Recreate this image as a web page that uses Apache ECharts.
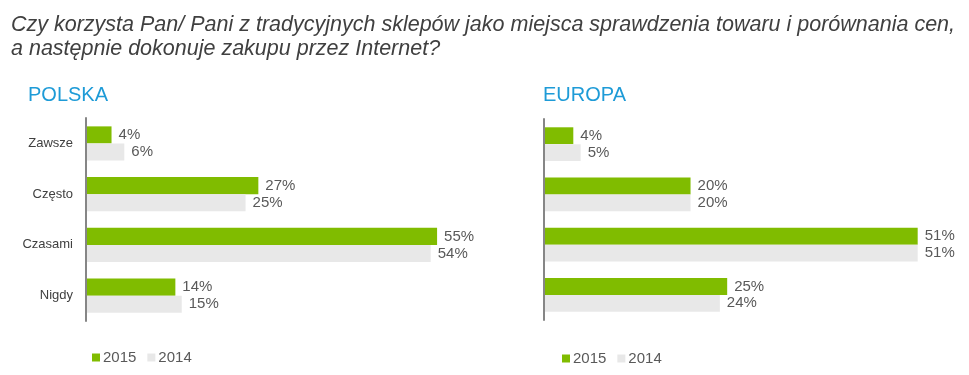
<!DOCTYPE html>
<html>
<head>
<meta charset="utf-8">
<script src="https://cdn.jsdelivr.net/npm/echarts@6/dist/echarts.min.js"></script>
<style>
  html, body { margin: 0; padding: 0; background: #fff; }
  #chart { width: 969px; height: 375px; }
</style>
</head>
<body>
<div id="chart"></div>
<script>
const categories = ['Zawsze', 'Często', 'Czasami', 'Nigdy']
const years = ['2015', '2014']
const polska2015 = [4, 27, 55, 14]
const polska2014 = [6, 25, 54, 15]
const europa2015 = [4, 20, 51, 25]
const europa2014 = [5, 20, 51, 24]

const colors = ['#80bc00', '#e8e8e8']
const font = 'Liberation Sans, Arial, sans-serif'

const labelStyle = {
    show: true,
    position: 'right',
    distance: 7,
    formatter: '{c}%',
    color: '#595959',
    fontSize: 15,
    fontFamily: font
}

const makeSeries = function (name, data, idx, color) {
    return {
        name,
        type: 'bar',
        xAxisIndex: idx,
        yAxisIndex: idx,
        data,
        barGap: '0%',
        barCategoryGap: '33%',
        itemStyle: { color },
        label: labelStyle,
        silent: true
    }
}

const yAxisBase = {
    type: 'category',
    data: categories,
    inverse: true,
    axisTick: { show: false },
    axisLine: { lineStyle: { color: '#868686', width: 2 } },
    z: 5
}

const legendBase = {
    data: years,
    icon: 'rect',
    itemWidth: 8,
    itemHeight: 8,
    itemGap: 11,
    selectedMode: false,
    textStyle: { color: '#595959', fontSize: 15, fontFamily: font, padding: [0, 0, 0, -2] }
}

const chart = echarts.init(document.getElementById('chart'))
chart.setOption({
    animation: false,
    title: [
        {
            text: 'Czy korzysta Pan/ Pani z tradycyjnych sklepów jako miejsca sprawdzenia towaru i porównania cen,\na następnie dokonuje zakupu przez Internet?',
            left: 6,
            top: 8,
            textStyle: { fontStyle: 'italic', fontWeight: 'normal', fontSize: 21.5, lineHeight: 24, color: '#404040', fontFamily: font }
        },
        {
            text: 'POLSKA',
            left: 23,
            top: 80,
            textStyle: { fontWeight: 'normal', fontSize: 20, color: '#1e9bd7', fontFamily: font }
        },
        {
            text: 'EUROPA',
            left: 538,
            top: 80,
            textStyle: { fontWeight: 'normal', fontSize: 20, color: '#1e9bd7', fontFamily: font }
        }
    ],
    legend: [
        Object.assign({ left: 87, top: 345 }, legendBase),
        Object.assign({ left: 557, top: 346 }, legendBase)
    ],
    grid: [
        { left: 86, top: 118, width: 383, height: 203 },
        { left: 544, top: 119, width: 403, height: 201 }
    ],
    xAxis: [
        { gridIndex: 0, type: 'value', min: 0, max: 60, show: false },
        { gridIndex: 1, type: 'value', min: 0, max: 55, show: false }
    ],
    yAxis: [
        Object.assign({ gridIndex: 0, axisLabel: { color: '#404040', fontSize: 13, fontFamily: font, margin: 13 } }, yAxisBase),
        Object.assign({ gridIndex: 1, axisLabel: { show: false } }, yAxisBase)
    ],
    series: [
        makeSeries(years[0], polska2015, 0, colors[0]),
        makeSeries(years[1], polska2014, 0, colors[1]),
        makeSeries(years[0], europa2015, 1, colors[0]),
        makeSeries(years[1], europa2014, 1, colors[1])
    ]
})
</script>
</body>
</html>
